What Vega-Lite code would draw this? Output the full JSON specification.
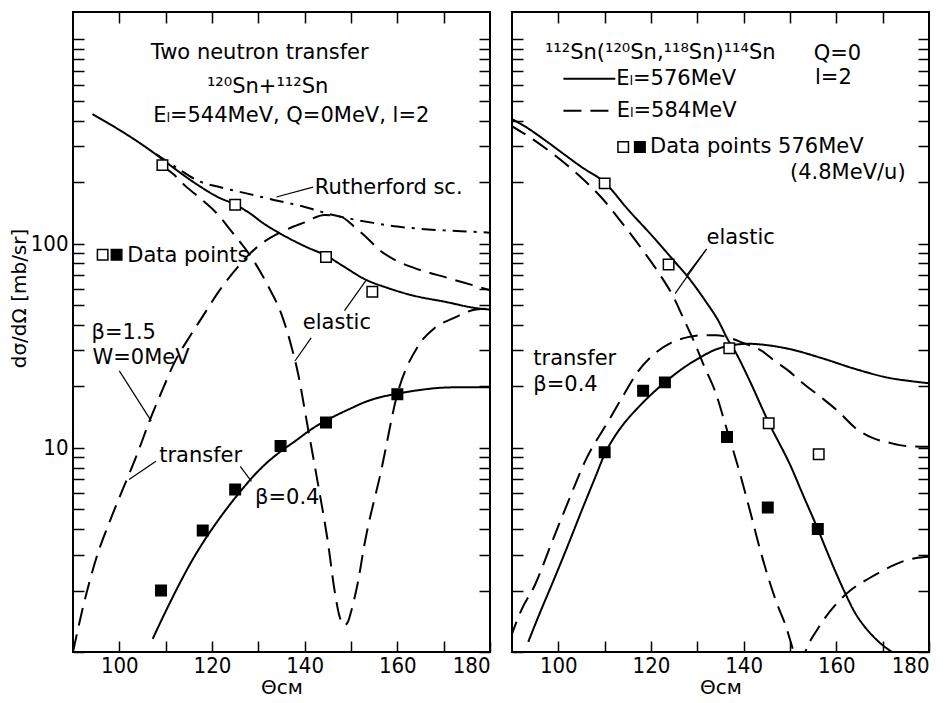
{
"$schema":"https://vega.github.io/schema/vega-lite/v6.json",
"padding":{"left":8,"top":10,"right":8,"bottom":0},
"spacing":22,
"bounds":"flush",
"datasets":{
"lines_L":[
{"curve":"elastic","calc":"β=0.4","t":94.2,"v":430},{"curve":"elastic","calc":"β=0.4","t":97,"v":395},{"curve":"elastic","calc":"β=0.4","t":100,"v":360},{"curve":"elastic","calc":"β=0.4","t":104,"v":315},{"curve":"elastic","calc":"β=0.4","t":108,"v":272},{"curve":"elastic","calc":"β=0.4","t":112,"v":232},{"curve":"elastic","calc":"β=0.4","t":117,"v":193},{"curve":"elastic","calc":"β=0.4","t":121,"v":170},{"curve":"elastic","calc":"β=0.4","t":125,"v":155},{"curve":"elastic","calc":"β=0.4","t":127.9,"v":142},{"curve":"elastic","calc":"β=0.4","t":131,"v":126},{"curve":"elastic","calc":"β=0.4","t":135,"v":111},{"curve":"elastic","calc":"β=0.4","t":140,"v":97},{"curve":"elastic","calc":"β=0.4","t":144.7,"v":87},{"curve":"elastic","calc":"β=0.4","t":148.5,"v":77},{"curve":"elastic","calc":"β=0.4","t":152.9,"v":67},{"curve":"elastic","calc":"β=0.4","t":158,"v":60.5},{"curve":"elastic","calc":"β=0.4","t":163.6,"v":55.5},{"curve":"elastic","calc":"β=0.4","t":170,"v":52},{"curve":"elastic","calc":"β=0.4","t":177.8,"v":48},{"curve":"elastic","calc":"β=0.4","t":180,"v":47.5},
{"curve":"rutherford","calc":"Rutherford","t":107.9,"v":274},{"curve":"rutherford","calc":"Rutherford","t":112,"v":238},{"curve":"rutherford","calc":"Rutherford","t":117.2,"v":202},{"curve":"rutherford","calc":"Rutherford","t":122,"v":188},{"curve":"rutherford","calc":"Rutherford","t":127.9,"v":175},{"curve":"rutherford","calc":"Rutherford","t":133.6,"v":163},{"curve":"rutherford","calc":"Rutherford","t":140,"v":151},{"curve":"rutherford","calc":"Rutherford","t":145,"v":140},{"curve":"rutherford","calc":"Rutherford","t":150,"v":132},{"curve":"rutherford","calc":"Rutherford","t":155,"v":126},{"curve":"rutherford","calc":"Rutherford","t":160,"v":121},{"curve":"rutherford","calc":"Rutherford","t":165,"v":118},{"curve":"rutherford","calc":"Rutherford","t":170,"v":116},{"curve":"rutherford","calc":"Rutherford","t":177.1,"v":114},{"curve":"rutherford","calc":"Rutherford","t":180,"v":113},
{"curve":"elastic","calc":"β=1.5","t":109.3,"v":240},{"curve":"elastic","calc":"β=1.5","t":111.5,"v":220},{"curve":"elastic","calc":"β=1.5","t":114.3,"v":191},{"curve":"elastic","calc":"β=1.5","t":117.5,"v":166},{"curve":"elastic","calc":"β=1.5","t":120.7,"v":143},{"curve":"elastic","calc":"β=1.5","t":124.3,"v":114},{"curve":"elastic","calc":"β=1.5","t":128.6,"v":85},{"curve":"elastic","calc":"β=1.5","t":132.1,"v":62},{"curve":"elastic","calc":"β=1.5","t":135,"v":45},{"curve":"elastic","calc":"β=1.5","t":137.2,"v":31},{"curve":"elastic","calc":"β=1.5","t":138.5,"v":23.5},{"curve":"elastic","calc":"β=1.5","t":140.7,"v":12.5},{"curve":"elastic","calc":"β=1.5","t":142.9,"v":6.6},{"curve":"elastic","calc":"β=1.5","t":145,"v":3.47},{"curve":"elastic","calc":"β=1.5","t":146.5,"v":1.97},{"curve":"elastic","calc":"β=1.5","t":147.5,"v":1.5},{"curve":"elastic","calc":"β=1.5","t":148.5,"v":1.35},{"curve":"elastic","calc":"β=1.5","t":149.3,"v":1.4},{"curve":"elastic","calc":"β=1.5","t":150,"v":1.57},{"curve":"elastic","calc":"β=1.5","t":151.5,"v":2.2},{"curve":"elastic","calc":"β=1.5","t":152.9,"v":3.36},{"curve":"elastic","calc":"β=1.5","t":156.5,"v":7.7},{"curve":"elastic","calc":"β=1.5","t":160,"v":18.3},{"curve":"elastic","calc":"β=1.5","t":164.3,"v":31},{"curve":"elastic","calc":"β=1.5","t":168,"v":38.5},{"curve":"elastic","calc":"β=1.5","t":172,"v":43},{"curve":"elastic","calc":"β=1.5","t":177,"v":47.5},{"curve":"elastic","calc":"β=1.5","t":180,"v":48},
{"curve":"transfer","calc":"β=1.5","t":90,"v":1.0},{"curve":"transfer","calc":"β=1.5","t":92,"v":1.6},{"curve":"transfer","calc":"β=1.5","t":95,"v":2.87},{"curve":"transfer","calc":"β=1.5","t":98,"v":4.4},{"curve":"transfer","calc":"β=1.5","t":100.8,"v":6.3},{"curve":"transfer","calc":"β=1.5","t":104,"v":9.5},{"curve":"transfer","calc":"β=1.5","t":106.5,"v":13.5},{"curve":"transfer","calc":"β=1.5","t":109,"v":18.5},{"curve":"transfer","calc":"β=1.5","t":112.2,"v":27},{"curve":"transfer","calc":"β=1.5","t":115,"v":34.5},{"curve":"transfer","calc":"β=1.5","t":118,"v":44},{"curve":"transfer","calc":"β=1.5","t":121.4,"v":58},{"curve":"transfer","calc":"β=1.5","t":125,"v":74},{"curve":"transfer","calc":"β=1.5","t":127.9,"v":88},{"curve":"transfer","calc":"β=1.5","t":131,"v":101},{"curve":"transfer","calc":"β=1.5","t":135,"v":114},{"curve":"transfer","calc":"β=1.5","t":140,"v":127},{"curve":"transfer","calc":"β=1.5","t":144.3,"v":138},{"curve":"transfer","calc":"β=1.5","t":147.9,"v":135},{"curve":"transfer","calc":"β=1.5","t":150.5,"v":122},{"curve":"transfer","calc":"β=1.5","t":152.9,"v":109.5},{"curve":"transfer","calc":"β=1.5","t":156.4,"v":92},{"curve":"transfer","calc":"β=1.5","t":160,"v":82},{"curve":"transfer","calc":"β=1.5","t":163.6,"v":76},{"curve":"transfer","calc":"β=1.5","t":170.7,"v":68},{"curve":"transfer","calc":"β=1.5","t":177.9,"v":61},{"curve":"transfer","calc":"β=1.5","t":180,"v":59},
{"curve":"transfer","calc":"β=0.4","t":107.2,"v":1.16},{"curve":"transfer","calc":"β=0.4","t":110,"v":1.58},{"curve":"transfer","calc":"β=0.4","t":112.9,"v":2.14},{"curve":"transfer","calc":"β=0.4","t":115,"v":2.63},{"curve":"transfer","calc":"β=0.4","t":117.9,"v":3.39},{"curve":"transfer","calc":"β=0.4","t":121,"v":4.31},{"curve":"transfer","calc":"β=0.4","t":124.3,"v":5.43},{"curve":"transfer","calc":"β=0.4","t":127,"v":6.46},{"curve":"transfer","calc":"β=0.4","t":129.3,"v":7.41},{"curve":"transfer","calc":"β=0.4","t":132,"v":8.51},{"curve":"transfer","calc":"β=0.4","t":135,"v":9.66},{"curve":"transfer","calc":"β=0.4","t":138,"v":10.8},{"curve":"transfer","calc":"β=0.4","t":141.4,"v":12.3},{"curve":"transfer","calc":"β=0.4","t":145.7,"v":14},{"curve":"transfer","calc":"β=0.4","t":150,"v":15.6},{"curve":"transfer","calc":"β=0.4","t":152.9,"v":16.7},{"curve":"transfer","calc":"β=0.4","t":156,"v":17.6},{"curve":"transfer","calc":"β=0.4","t":160,"v":18.4},{"curve":"transfer","calc":"β=0.4","t":165,"v":19.2},{"curve":"transfer","calc":"β=0.4","t":170,"v":19.7},{"curve":"transfer","calc":"β=0.4","t":175,"v":19.8},{"curve":"transfer","calc":"β=0.4","t":180,"v":19.8}
],
"lines_R":[
{"curve":"elastic","calc":"576 MeV","t":89.6,"v":411},{"curve":"elastic","calc":"576 MeV","t":93,"v":372},{"curve":"elastic","calc":"576 MeV","t":97,"v":322},{"curve":"elastic","calc":"576 MeV","t":101,"v":276},{"curve":"elastic","calc":"576 MeV","t":105,"v":237},{"curve":"elastic","calc":"576 MeV","t":110,"v":199},{"curve":"elastic","calc":"576 MeV","t":115,"v":147},{"curve":"elastic","calc":"576 MeV","t":120.9,"v":105},{"curve":"elastic","calc":"576 MeV","t":125,"v":82},{"curve":"elastic","calc":"576 MeV","t":128.1,"v":68},{"curve":"elastic","calc":"576 MeV","t":131.7,"v":52.5},{"curve":"elastic","calc":"576 MeV","t":134.5,"v":42},{"curve":"elastic","calc":"576 MeV","t":136.7,"v":33.5},{"curve":"elastic","calc":"576 MeV","t":138.2,"v":29.5},{"curve":"elastic","calc":"576 MeV","t":141,"v":22},{"curve":"elastic","calc":"576 MeV","t":145.4,"v":13.3},{"curve":"elastic","calc":"576 MeV","t":150.4,"v":7.9},{"curve":"elastic","calc":"576 MeV","t":152.5,"v":6.1},{"curve":"elastic","calc":"576 MeV","t":156.2,"v":3.9},{"curve":"elastic","calc":"576 MeV","t":158,"v":3.1},{"curve":"elastic","calc":"576 MeV","t":160,"v":2.42},{"curve":"elastic","calc":"576 MeV","t":162,"v":1.92},{"curve":"elastic","calc":"576 MeV","t":164,"v":1.56},{"curve":"elastic","calc":"576 MeV","t":166,"v":1.34},{"curve":"elastic","calc":"576 MeV","t":168,"v":1.19},{"curve":"elastic","calc":"576 MeV","t":170,"v":1.08},{"curve":"elastic","calc":"576 MeV","t":172,"v":1.0},{"curve":"elastic","calc":"576 MeV","t":174,"v":0.93},
{"curve":"transfer","calc":"576 MeV","t":93.5,"v":1.12},{"curve":"transfer","calc":"576 MeV","t":96,"v":1.55},{"curve":"transfer","calc":"576 MeV","t":99,"v":2.25},{"curve":"transfer","calc":"576 MeV","t":102,"v":3.3},{"curve":"transfer","calc":"576 MeV","t":105,"v":4.9},{"curve":"transfer","calc":"576 MeV","t":108,"v":7.2},{"curve":"transfer","calc":"576 MeV","t":110,"v":9.3},{"curve":"transfer","calc":"576 MeV","t":112,"v":11.2},{"curve":"transfer","calc":"576 MeV","t":114,"v":13},{"curve":"transfer","calc":"576 MeV","t":117.3,"v":15.8},{"curve":"transfer","calc":"576 MeV","t":120,"v":18.2},{"curve":"transfer","calc":"576 MeV","t":123,"v":20.9},{"curve":"transfer","calc":"576 MeV","t":127,"v":24.6},{"curve":"transfer","calc":"576 MeV","t":131,"v":28},{"curve":"transfer","calc":"576 MeV","t":134,"v":30.3},{"curve":"transfer","calc":"576 MeV","t":136.7,"v":31.5},{"curve":"transfer","calc":"576 MeV","t":141,"v":32.3},{"curve":"transfer","calc":"576 MeV","t":145,"v":31.8},{"curve":"transfer","calc":"576 MeV","t":149.7,"v":30.5},{"curve":"transfer","calc":"576 MeV","t":156.8,"v":27.5},{"curve":"transfer","calc":"576 MeV","t":164.1,"v":24.3},{"curve":"transfer","calc":"576 MeV","t":171.3,"v":22},{"curve":"transfer","calc":"576 MeV","t":176,"v":21.2},{"curve":"transfer","calc":"576 MeV","t":180,"v":20.7},
{"curve":"elastic","calc":"584 MeV","t":89.6,"v":380},{"curve":"elastic","calc":"584 MeV","t":95,"v":318},{"curve":"elastic","calc":"584 MeV","t":100,"v":262},{"curve":"elastic","calc":"584 MeV","t":105,"v":210},{"curve":"elastic","calc":"584 MeV","t":109.3,"v":168},{"curve":"elastic","calc":"584 MeV","t":114,"v":124},{"curve":"elastic","calc":"584 MeV","t":118.8,"v":89},{"curve":"elastic","calc":"584 MeV","t":122,"v":70},{"curve":"elastic","calc":"584 MeV","t":124.8,"v":55},{"curve":"elastic","calc":"584 MeV","t":127,"v":43},{"curve":"elastic","calc":"584 MeV","t":129.5,"v":32.3},{"curve":"elastic","calc":"584 MeV","t":131.5,"v":25},{"curve":"elastic","calc":"584 MeV","t":133.8,"v":19},{"curve":"elastic","calc":"584 MeV","t":136.5,"v":12},{"curve":"elastic","calc":"584 MeV","t":138.9,"v":7.9},{"curve":"elastic","calc":"584 MeV","t":141.8,"v":4.5},{"curve":"elastic","calc":"584 MeV","t":143.5,"v":3.2},{"curve":"elastic","calc":"584 MeV","t":145.4,"v":2.28},{"curve":"elastic","calc":"584 MeV","t":147.3,"v":1.7},{"curve":"elastic","calc":"584 MeV","t":149,"v":1.36},{"curve":"elastic","calc":"584 MeV","t":150.8,"v":1.0},{"curve":"elastic","calc":"584 MeV","t":151.8,"v":0.85},
{"curve":"elastic2","calc":"584 MeV","t":152.3,"v":0.85},{"curve":"elastic2","calc":"584 MeV","t":153.3,"v":1.0},{"curve":"elastic2","calc":"584 MeV","t":156,"v":1.3},{"curve":"elastic2","calc":"584 MeV","t":159.8,"v":1.7},{"curve":"elastic2","calc":"584 MeV","t":163,"v":2.0},{"curve":"elastic2","calc":"584 MeV","t":167,"v":2.29},{"curve":"elastic2","calc":"584 MeV","t":170,"v":2.5},{"curve":"elastic2","calc":"584 MeV","t":174.2,"v":2.77},{"curve":"elastic2","calc":"584 MeV","t":177,"v":2.88},{"curve":"elastic2","calc":"584 MeV","t":180,"v":2.93},
{"curve":"transfer","calc":"584 MeV","t":89.6,"v":1.16},{"curve":"transfer","calc":"584 MeV","t":92,"v":1.6},{"curve":"transfer","calc":"584 MeV","t":95,"v":2.14},{"curve":"transfer","calc":"584 MeV","t":98.5,"v":3.4},{"curve":"transfer","calc":"584 MeV","t":102.2,"v":5.5},{"curve":"transfer","calc":"584 MeV","t":106,"v":8.8},{"curve":"transfer","calc":"584 MeV","t":110.8,"v":13.5},{"curve":"transfer","calc":"584 MeV","t":114,"v":18},{"curve":"transfer","calc":"584 MeV","t":117.3,"v":23.8},{"curve":"transfer","calc":"584 MeV","t":120.5,"v":28.5},{"curve":"transfer","calc":"584 MeV","t":124.4,"v":32.7},{"curve":"transfer","calc":"584 MeV","t":128,"v":34.8},{"curve":"transfer","calc":"584 MeV","t":131.7,"v":35.6},{"curve":"transfer","calc":"584 MeV","t":134,"v":35.6},{"curve":"transfer","calc":"584 MeV","t":136.7,"v":34.7},{"curve":"transfer","calc":"584 MeV","t":140,"v":32.5},{"curve":"transfer","calc":"584 MeV","t":143.9,"v":29.8},{"curve":"transfer","calc":"584 MeV","t":146.8,"v":26.5},{"curve":"transfer","calc":"584 MeV","t":149.7,"v":23.8},{"curve":"transfer","calc":"584 MeV","t":153,"v":20.5},{"curve":"transfer","calc":"584 MeV","t":156.8,"v":17.6},{"curve":"transfer","calc":"584 MeV","t":160.5,"v":15},{"curve":"transfer","calc":"584 MeV","t":164.1,"v":12.5},{"curve":"transfer","calc":"584 MeV","t":167.7,"v":11.2},{"curve":"transfer","calc":"584 MeV","t":171.3,"v":10.6},{"curve":"transfer","calc":"584 MeV","t":175,"v":10.2},{"curve":"transfer","calc":"584 MeV","t":180,"v":10.1}
],
"pts_L":[
{"t":109.3,"v":242,"k":"elastic"},{"t":125,"v":155,"k":"elastic"},{"t":144.6,"v":86,"k":"elastic"},{"t":154.6,"v":58,"k":"elastic"},
{"t":109,"v":2.0,"k":"transfer"},{"t":118,"v":3.93,"k":"transfer"},{"t":125,"v":6.25,"k":"transfer"},{"t":134.8,"v":10.2,"k":"transfer"},{"t":144.6,"v":13.3,"k":"transfer"},{"t":160,"v":18.3,"k":"transfer"},
{"t":96.4,"v":88,"k":"elastic"},{"t":99.4,"v":88,"k":"transfer"}
],
"pts_R":[
{"t":110,"v":197,"k":"elastic"},{"t":123.8,"v":79,"k":"elastic"},{"t":136.9,"v":30.7,"k":"elastic"},{"t":145.4,"v":13.2,"k":"elastic"},{"t":156.2,"v":9.3,"k":"elastic"},
{"t":110,"v":9.5,"k":"transfer"},{"t":118.3,"v":19,"k":"transfer"},{"t":123,"v":20.9,"k":"transfer"},{"t":136.4,"v":11.3,"k":"transfer"},{"t":145.2,"v":5.1,"k":"transfer"},{"t":156,"v":4.0,"k":"transfer"},
{"t":114.0,"v":297,"k":"elastic"},{"t":117.6,"v":297,"k":"transfer"}
],
"txt_L":[
{"t":106.8,"v":860,"label":"Two neutron transfer"},
{"t":118.9,"v":585,"label":"¹²⁰Sn+¹¹²Sn"},
{"t":107.3,"v":423,"label":"Eₗ=544MeV, Q=0MeV, l=2"},
{"t":142.2,"v":188,"label":"Rutherford sc."},
{"t":101.7,"v":87,"label":"Data points"},
{"t":139.6,"v":41,"label":"elastic"},
{"t":94,"v":36.6,"label":"β=1.5"},
{"t":94.2,"v":27.5,"label":"W=0MeV"},
{"t":108.6,"v":9.1,"label":"transfer"},
{"t":129.3,"v":5.7,"label":"β=0.4"}
],
"txt_R":[
{"t":97.1,"v":860,"label":"¹¹²Sn(¹²⁰Sn,¹¹⁸Sn)¹¹⁴Sn"},
{"t":155.1,"v":849,"label":"Q=0"},
{"t":155.4,"v":643,"label":"l=2"},
{"t":112.5,"v":640,"label":"Eₗ=576MeV"},
{"t":112.6,"v":447,"label":"Eₗ=584MeV"},
{"t":119.8,"v":297,"label":"Data points 576MeV"},
{"t":150.0,"v":221,"label":"(4.8MeV/u)"},
{"t":132.0,"v":107,"label":"elastic"},
{"t":94.6,"v":27.2,"label":"transfer"},
{"t":94.6,"v":20.3,"label":"β=0.4"}
],
"rules_L":[
{"t":133.9,"v":169,"t2":141.8,"v2":189},
{"t":148.6,"v":46.9,"t2":153.2,"v2":65.8},
{"t":141.4,"v":34.5,"t2":137.9,"v2":26.6},
{"t":100,"v":23.8,"t2":106.9,"v2":13.5},
{"t":107.9,"v":8.6,"t2":102.1,"v2":7.0},
{"t":126.1,"v":8.1,"t2":128.5,"v2":6.85}
],
"rules_R":[
{"t":132,"v":94,"t2":127.7,"v2":70},
{"t":132,"v":94,"t2":125.2,"v2":56.8}
],
"legend_R":[
{"t":101.1,"v":640,"t2":112.3,"v2":640,"calc":"576 MeV"},
{"t":101.1,"v":447,"t2":112.3,"v2":447,"calc":"584 MeV"}
]
},
"hconcat":[
{
"width":417,"height":640,
"resolve":{"axis":{"x":"independent","y":"independent"}},
"layer":[
{"data":{"name":"lines_L"},"mark":{"type":"line","clip":true,"strokeWidth":2,"color":"black","interpolate":"monotone"},
"encoding":{
"x":{"field":"t","type":"quantitative","scale":{"domain":[90,180],"nice":false,"zero":false},"axis":{"orient":"bottom","values":[100,110,120,130,140,150,160,170,180],"labelExpr":"datum.value % 20 == 0 ? datum.label : ''","title":"Θᴄᴍ"}},
"y":{"field":"v","type":"quantitative","scale":{"type":"log","domain":[1,1360],"nice":false},"axis":{"orient":"left","values":[1,2,3,4,5,6,7,8,9,10,20,30,40,50,60,70,80,90,100,200,300,400,500,600,700,800,900,1000],"labelExpr":"datum.value == 10 ? '10' : datum.value == 100 ? '100' : ''","title":"dσ/dΩ [mb/sr]","labelPadding":16,"titleY":286}},
"detail":{"field":"curve"},
"strokeDash":{"field":"calc","type":"nominal","scale":{"domain":["β=0.4","β=1.5","Rutherford"],"range":[[1,0],[18,9],[14,7,3,7]]},"legend":null}}},
{"data":{"name":"rules_L"},"mark":{"type":"rule","strokeWidth":1.2,"color":"black"},
"encoding":{
"x":{"field":"t","type":"quantitative","scale":{"domain":[90,180],"nice":false,"zero":false},"axis":null},
"y":{"field":"v","type":"quantitative","scale":{"type":"log","domain":[1,1360],"nice":false},"axis":null},
"x2":{"field":"t2"},"y2":{"field":"v2"}}},
{"data":{"name":"pts_L"},"mark":{"type":"point","shape":"square","filled":true,"opacity":1,"size":110,"stroke":"black","strokeWidth":1.5},
"encoding":{
"x":{"field":"t","type":"quantitative","scale":{"domain":[90,180],"nice":false,"zero":false},"axis":{"orient":"top","values":[100,110,120,130,140,150,160,170],"labels":false,"title":null}},
"y":{"field":"v","type":"quantitative","scale":{"type":"log","domain":[1,1360],"nice":false},"axis":{"orient":"right","values":[1,2,3,4,5,6,7,8,9,10,20,30,40,50,60,70,80,90,100,200,300,400,500,600,700,800,900,1000],"labels":false,"title":null}},
"fill":{"field":"k","type":"nominal","scale":{"domain":["elastic","transfer"],"range":["white","black"]},"legend":null}}},
{"data":{"name":"txt_L"},"mark":{"type":"text","align":"left","baseline":"middle","fontSize":21,"font":"DejaVu Sans","color":"black"},
"encoding":{
"x":{"field":"t","type":"quantitative","scale":{"domain":[90,180],"nice":false,"zero":false},"axis":null},
"y":{"field":"v","type":"quantitative","scale":{"type":"log","domain":[1,1360],"nice":false},"axis":null},
"text":{"field":"label"}}}
]
},
{
"width":417,"height":640,
"resolve":{"axis":{"x":"independent","y":"independent"}},
"layer":[
{"data":{"name":"lines_R"},"mark":{"type":"line","clip":true,"strokeWidth":2,"color":"black","interpolate":"monotone"},
"encoding":{
"x":{"field":"t","type":"quantitative","scale":{"domain":[90,180],"nice":false,"zero":false},"axis":{"orient":"bottom","values":[100,110,120,130,140,150,160,170,180],"labelExpr":"datum.value % 20 == 0 ? datum.label : ''","title":"Θᴄᴍ"}},
"y":{"field":"v","type":"quantitative","scale":{"type":"log","domain":[1,1360],"nice":false},"axis":{"orient":"left","values":[1,2,3,4,5,6,7,8,9,10,20,30,40,50,60,70,80,90,100,200,300,400,500,600,700,800,900,1000],"labels":false,"title":null}},
"detail":{"field":"curve"},
"strokeDash":{"field":"calc","type":"nominal","scale":{"domain":["576 MeV","584 MeV"],"range":[[1,0],[12,7]]},"legend":null}}},
{"data":{"name":"legend_R"},"mark":{"type":"rule","strokeWidth":2,"color":"black"},
"encoding":{
"x":{"field":"t","type":"quantitative","scale":{"domain":[90,180],"nice":false,"zero":false},"axis":null},
"y":{"field":"v","type":"quantitative","scale":{"type":"log","domain":[1,1360],"nice":false},"axis":null},
"x2":{"field":"t2"},"y2":{"field":"v2"},
"strokeDash":{"field":"calc","type":"nominal","scale":{"domain":["576 MeV","584 MeV"],"range":[[1,0],[12,7]]},"legend":null}}},
{"data":{"name":"rules_R"},"mark":{"type":"rule","strokeWidth":1.2,"color":"black"},
"encoding":{
"x":{"field":"t","type":"quantitative","scale":{"domain":[90,180],"nice":false,"zero":false},"axis":null},
"y":{"field":"v","type":"quantitative","scale":{"type":"log","domain":[1,1360],"nice":false},"axis":null},
"x2":{"field":"t2"},"y2":{"field":"v2"}}},
{"data":{"name":"pts_R"},"mark":{"type":"point","shape":"square","filled":true,"opacity":1,"size":110,"stroke":"black","strokeWidth":1.5},
"encoding":{
"x":{"field":"t","type":"quantitative","scale":{"domain":[90,180],"nice":false,"zero":false},"axis":{"orient":"top","values":[100,110,120,130,140,150,160,170],"labels":false,"title":null}},
"y":{"field":"v","type":"quantitative","scale":{"type":"log","domain":[1,1360],"nice":false},"axis":{"orient":"right","values":[1,2,3,4,5,6,7,8,9,10,20,30,40,50,60,70,80,90,100,200,300,400,500,600,700,800,900,1000],"labels":false,"title":null}},
"fill":{"field":"k","type":"nominal","scale":{"domain":["elastic","transfer"],"range":["white","black"]},"legend":null}}},
{"data":{"name":"txt_R"},"mark":{"type":"text","align":"left","baseline":"middle","fontSize":21,"font":"DejaVu Sans","color":"black"},
"encoding":{
"x":{"field":"t","type":"quantitative","scale":{"domain":[90,180],"nice":false,"zero":false},"axis":null},
"y":{"field":"v","type":"quantitative","scale":{"type":"log","domain":[1,1360],"nice":false},"axis":null},
"text":{"field":"label"}}}
]
}
],
"config":{
"background":"white",
"view":{"stroke":"black","strokeWidth":2},
"axis":{"domain":false,"grid":false,"tickColor":"black","tickWidth":1.5,"tickSize":-11,"labelPadding":14,"labelFont":"Liberation Sans Narrow, DejaVu Sans Condensed, sans-serif","labelFontSize":22,"labelColor":"black","titleFont":"DejaVu Sans","titleFontSize":20,"titleFontWeight":"normal","titleColor":"black","titlePadding":1,"minExtent":0}
}
}
